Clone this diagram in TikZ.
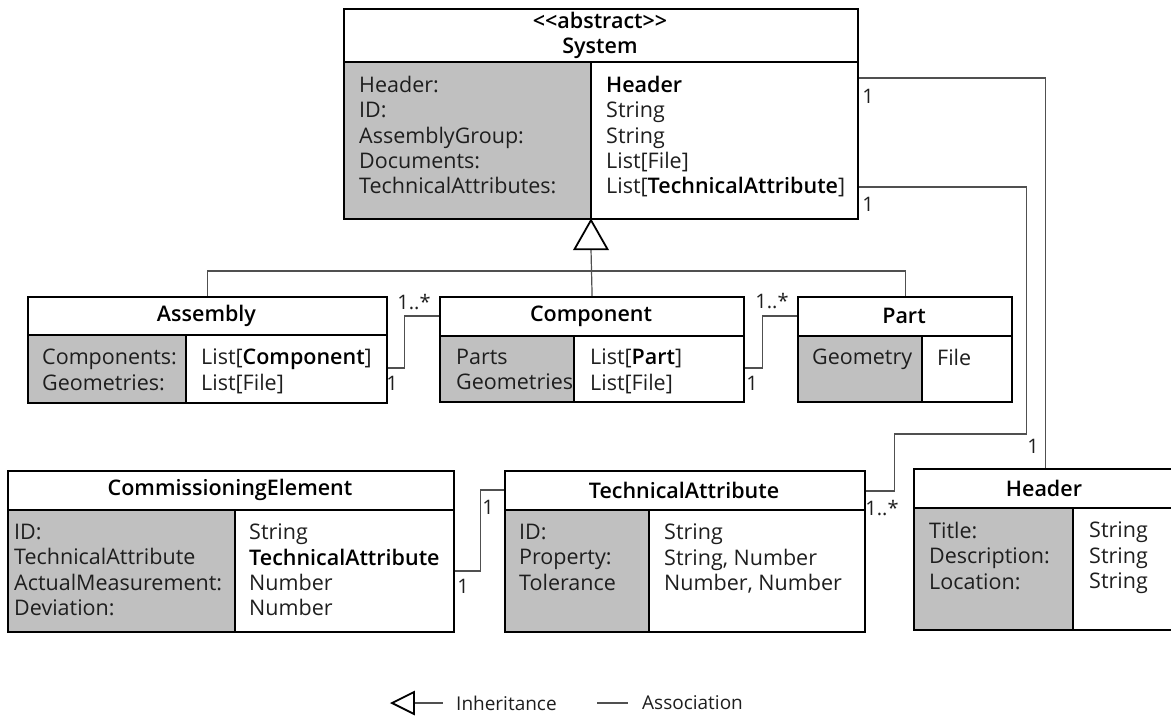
\documentclass[tikz,border=0pt]{standalone}
\usepackage{fontspec}
\IfFontExistsTF{Open Sans SemiBold}
  {\setmainfont{Open Sans}[BoldFont={Open Sans SemiBold}]}
  {\IfFontExistsTF{Open Sans Semibold}
     {\setmainfont{Open Sans}[BoldFont={Open Sans Semibold}]}
     {\setmainfont{Open Sans}}}
\usetikzlibrary{calc}
\definecolor{cellgray}{HTML}{C0C0C0}
\definecolor{txt}{HTML}{1E1E1E}
\definecolor{conn}{HTML}{505050}
\newcommand\bk[1]{\textcolor{black}{\bfseries #1}}
\tikzset{
  boxframe/.style={draw=black, line width=2.2pt, inner sep=0pt, fill=none},
  boxline/.style={draw=black, line width=2.2pt},
  titletext/.style={font=\fontsize{21.5}{25}\selectfont\bfseries, align=center, inner sep=0pt, text=black},
  coltext/.style={font=\fontsize{21.5}{25.3}\selectfont, align=left, inner sep=0pt, anchor=north west, text=txt},
  mult/.style={font=\fontsize{20}{22}\selectfont, inner sep=0pt, text=txt},
  assoc/.style={draw=conn, line width=1.2pt},
  inhtri/.style={draw=black, line width=1.8pt, fill=white, line join=miter},
  legendtext/.style={font=\fontsize{19}{22}\selectfont, inner sep=0pt, anchor=west, text=txt},
}
% name, left, top, right, bottom, title bottom, column split, title
\newcommand\umlbox[8]{%
  \fill[cellgray] (#2,#6) rectangle (#7,#5);
  \node[boxframe, minimum width={#4-#2}, minimum height={#5-#3}, anchor=north west] (#1) at (#2,#3) {};
  \draw[boxline] (#2,#6) -- (#4,#6);
  \draw[boxline] (#7,#6) -- (#7,#5);
  \node[titletext] (#1-title) at ({(#2+#4)/2},{(#3+#6)/2}) {#8};
}
\begin{document}
\begin{tikzpicture}[x=1pt,y=-1pt]
\useasboundingbox (0,0) rectangle (1171,717);

% classes
\umlbox{sys}{343}{8}{857}{218}{62}{591}{<\kern0pt<abstract>\kern0pt>\\System}
\node[coltext] (sys-l) at (359,76) {Header:\\ID:\\AssemblyGroup:\\Documents:\\TechnicalAttributes:};
\node[coltext] (sys-r) at (606,76) {\bk{Header}\\String\\String\\List[File]\\List[\bk{TechnicalAttribute}]};

\umlbox{asm}{27}{296}{386}{402}{335}{186}{Assembly}
\node[coltext] (asm-l) at (42,349) {Components:\\Geometries:};
\node[coltext] (asm-r) at (201,349) {List[\bk{Component}]\\List[File]};

\umlbox{cmp}{439}{296}{743}{401}{336}{574}{Component}
\node[coltext] (cmp-l) at (456,349) {Parts\\Geometries};
\node[coltext] (cmp-r) at (590,349) {List[\bk{Part}]\\List[File]};

\umlbox{prt}{797}{296}{1011}{401}{336}{922}{Part}
\node[coltext] (prt-l) at (812,349) {Geometry};
\node[coltext] (prt-r) at (937,349) {File};

\umlbox{ce}{7}{470}{453}{631}{510}{235}{CommissioningElement}
\node[coltext] (ce-l) at (14,524) {ID:\\TechnicalAttribute\\ActualMeasurement:\\Deviation:};
\node[coltext] (ce-r) at (249,524) {String\\\bk{TechnicalAttribute}\\Number\\Number};

\umlbox{ta}{504}{470}{864}{631}{510}{649}{TechnicalAttribute}
\node[coltext] (ta-l) at (519,524) {ID:\\Property:\\Tolerance};
\node[coltext] (ta-r) at (664,524) {String\\String, Number\\Number, Number};

\umlbox{hdr}{913}{468}{1175}{629}{508}{1073}{Header}
\node[coltext] (hdr-l) at (929,522) {Title:\\Description:\\Location:};
\node[coltext] (hdr-r) at (1089,522) {String\\String\\String};

% inheritance
\coordinate (apex) at ($(sys.south west)+(248,0)$);
\coordinate (tribase) at ($(apex)+(0,29)$);
\draw[assoc] (tribase) -- (cmp.north);
\draw[assoc] (asm.north) |- ($(cmp.north)+(0,-25)$) -| (prt.north);
\draw[inhtri] (apex) -- ++(-16.5,29) -- ++(33,0) -- cycle;

% associations
\draw[assoc] ($(sys.north east)+(0,70)$) -| (hdr.north);
\draw[assoc] ($(sys.north east)+(0,179)$) -| ($(ta.north east)+(160,-36)$) -| ($(ta.north east)+(28,21)$) -- ($(ta.north east)+(0,21)$);
\draw[assoc] ($(asm.north east)+(0,72)$) -- ++(16,0) |- ($(cmp.north west)+(0,20)$);
\draw[assoc] ($(cmp.north east)+(0,72)$) -- ++(17,0) |- ($(prt.north west)+(0,20)$);
\draw[assoc] ($(ce.north east)+(0,101)$) -- ++(25,0) |- ($(ta.north west)+(0,20)$);

% multiplicities
\node[mult] (m1) at (868,96) {1};
\node[mult] (m2) at (868,204) {1};
\node[mult] (m3) at (1033,446) {1};
\node[mult] (m4) at (414,302) {1..*};
\node[mult] (m5) at (392,383) {1};
\node[mult] (m6) at (772,301) {1..*};
\node[mult] (m7) at (752,383) {1};
\node[mult] (m8) at (488,507) {1};
\node[mult] (m9) at (463,586) {1};
\node[mult] (m10) at (882,508) {1..*};

% legend
\coordinate (lt) at (392,703);
\coordinate (lb) at (414,703);
\node[legendtext] (leg-inh) at (456,703) {Inheritance};
\draw[assoc] (lb) -- ($(leg-inh.west)+(-13,0)$);
\draw[inhtri] (lt) -- ++(22,-11) -- ++(0,22) -- cycle;
\node[legendtext] (leg-asc) at (642,703) {Association};
\draw[assoc] ($(leg-asc.west)+(-45,0)$) -- ($(leg-asc.west)+(-14,0)$);
\end{tikzpicture}
\end{document}
